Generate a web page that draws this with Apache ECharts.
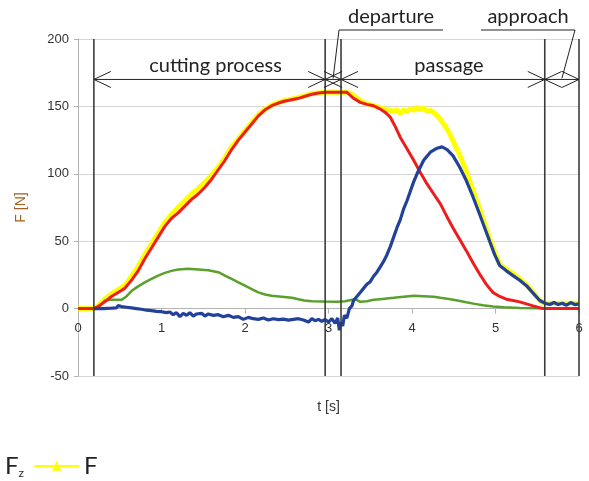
<!DOCTYPE html>
<html><head><meta charset="utf-8">
<script src="https://cdn.jsdelivr.net/npm/echarts@6/dist/echarts.min.js"></script>
<style>html,body{margin:0;padding:0;background:#fff}#c{width:589px;height:481px}</style>
</head><body><div id="c"></div>
<script>
// ---- data ----
const xTicks = [0,1,2,3,4,5,6];
const yTicks = [-50,0,50,100,150,200];

const fT = [0,0.19,0.24,0.32,0.40,0.48,0.56,0.64,0.72,0.80,0.88,0.96,1.04,1.12,1.20,1.28,1.36,1.44,1.52,1.60,1.68,1.76,1.84,1.92,2.00,2.08,2.16,2.24,2.32,2.40,2.48,2.56,2.63,2.72,2.80,2.88,2.96,3.10,3.22,3.28,3.34,3.40,3.46,3.54,3.62,3.70,3.78,3.82,3.86,3.90,3.94,3.98,4.02,4.06,4.10,4.14,4.18,4.22,4.26,4.32,4.38,4.44,4.49,4.57,4.65,4.73,4.81,4.87,4.93,4.99,5.05,5.13,5.21,5.29,5.37,5.45,5.53,5.59,5.70,6.00];
const fV = [0,0,2,7,11,14,17,24,31,40,48,56,64,70,75,80,85,89,94,99,105,112,120,126,132,138,144,148,151,153,154.5,155.5,156.5,158,159.5,160,160.5,160.5,160.5,159,156,153.5,152,150.5,149,147.5,146.5,147.5,145,147.5,146,148.5,147,149.5,147.5,149,146.5,147,145.6,142,137,131,124.6,114,102,88,74,63,52,42,33,29,26,22,18,12,6,4,4,4];

const fyT = [0,0.19,0.24,0.32,0.40,0.48,0.56,0.64,0.72,0.80,0.88,0.96,1.04,1.12,1.20,1.28,1.36,1.44,1.52,1.60,1.68,1.76,1.84,1.92,2.00,2.08,2.16,2.24,2.32,2.40,2.48,2.56,2.64,2.72,2.80,2.88,2.96,3.22,3.30,3.38,3.46,3.54,3.62,3.68,3.74,3.80,3.86,3.94,4.02,4.10,4.18,4.26,4.34,4.42,4.49,4.57,4.65,4.73,4.81,4.89,4.97,5.05,5.13,5.21,5.29,5.37,5.45,5.57,6.00];
const fyV = [0,0,1.5,5,9,12,15,21,28,37,45,53,61,67,71,76,81,85,90,96,103,110,118,125,131,137,143,147.5,150.5,152.5,154,155,156,157.5,159,160,160.5,160.5,156,153,151.5,150.5,148,145.5,142,135,127,118.5,110,101,92.5,85,77.7,68,60,51.5,43,34,25.7,18,12,9,7,6,5,3.5,2,0,0];

const fxT = [0,0.19,0.26,0.32,0.40,0.52,0.58,0.64,0.72,0.80,0.88,0.96,1.04,1.12,1.20,1.32,1.44,1.56,1.68,1.76,1.84,1.92,2.00,2.08,2.16,2.24,2.32,2.44,2.56,2.64,2.71,2.80,2.95,3.10,3.20,3.28,3.32,3.38,3.46,3.54,3.62,3.70,3.78,3.90,4.02,4.14,4.26,4.34,4.46,4.56,4.65,4.75,4.85,4.97,5.10,5.29,5.50,5.60,6.00];
const fxV = [0,0,2,6,6.5,6.5,9,13,16.5,19.5,22,24.5,26.5,28,29,29.5,29,28.5,27,24.5,22,19.5,17,14.5,12,10.5,9.6,8.8,8,7,6,5.5,5.2,5,5.5,6.5,7,5,5.5,6.5,7,7.5,8,8.8,9.6,9.2,8.8,8,7,5.8,4.7,3.5,2.5,1.5,1,0.5,0.2,0,0];

const fzT = [0.19,0.30,0.40,0.46,0.48,0.52,0.58,0.64,0.70,0.76,0.82,0.88,0.94,1.00,1.06,1.10,1.14,1.18,1.22,1.26,1.30,1.34,1.38,1.42,1.48,1.52,1.56,1.62,1.68,1.74,1.80,1.86,1.92,1.98,2.04,2.10,2.16,2.22,2.28,2.34,2.40,2.46,2.52,2.58,2.64,2.70,2.76,2.80,2.84,2.88,2.92,2.96,3.00,3.04,3.08,3.11,3.13,3.15,3.17,3.19,3.22,3.25,3.28,3.30,3.34,3.38,3.42,3.46,3.50,3.54,3.58,3.62,3.66,3.70,3.74,3.78,3.82,3.86,3.90,3.94,3.98,4.02,4.06,4.10,4.14,4.18,4.22,4.26,4.30,4.36,4.42,4.49,4.57,4.65,4.73,4.81,4.87,4.93,4.99,5.05,5.13,5.21,5.29,5.37,5.45,5.53,5.59,5.65,5.70,5.75,5.80,5.85,5.90,5.95,6.00];
const fzV = [0,0,0.3,0.5,2.2,1.5,1,0.5,0,-0.5,-1.2,-1.5,-2,-2.3,-3,-2.5,-4.5,-3,-6,-3.5,-5,-3,-5.5,-4,-3.5,-5.5,-4,-5,-4.5,-6,-5,-6.5,-6,-8,-6.5,-7.5,-8,-7,-8.5,-7.5,-8.2,-7.8,-8.5,-8,-7.5,-8.5,-10,-7.5,-9,-8,-9.5,-8,-10,-7.5,-11,-7,-16,-10,-13,-5,-7,0,2,6,9,12,15,18,20,24,27,31,35,40,46,53,60,66,74,80,87,94,100,105,110,113,116,117.5,119,120,118,113.5,105,95,83,70,60,50,40,32,28,24.5,21,17,11.5,6,4,3,4.5,3,4,2.5,4.5,3,3.5];

const phaseLines = [0.19, 2.96, 3.15, 5.59, 6.0];
const spanStart = [0.19, 2.96, 3.15, 5.59];
const spanEnd   = [2.96, 3.15, 5.59, 6.0];
const spanNames = ['cutting process', 'departure', 'passage', 'approach'];
const arrowLevel = 170;

// ---- styles / layout (not data) ----
const labelFont = 'Lato';
const callout = {
  'departure': {cx: 391, half: 52, from: 'left'},
  'approach':  {cx: 528, half: 47, from: 'right'}
};

const zip = (t, v) => t.map((x, i) => [x, v[i]]);
const spanData = spanStart.map((s, i) => [s, spanEnd[i], arrowLevel, i]);

const chart = echarts.init(document.getElementById('c'), null, {renderer: 'canvas'});

function arrowItem(params, api) {
  const idx = api.value(3);
  const name = spanNames[idx];
  const y = api.value(2);
  const p1 = api.coord([api.value(0), y]);
  const p2 = api.coord([api.value(1), y]);
  const L = 17, W = 8;
  const ls = {stroke: '#222', lineWidth: 1, fill: null};
  const children = [
    {type: 'line', shape: {x1: p1[0], y1: p1[1], x2: p2[0], y2: p2[1]}, style: ls},
    {type: 'polyline', shape: {points: [[p1[0]+L, p1[1]-W], p1, [p1[0]+L, p1[1]+W]]}, style: ls},
    {type: 'polyline', shape: {points: [[p2[0]-L, p2[1]-W], p2, [p2[0]-L, p2[1]+W]]}, style: ls}
  ];
  const mx = (p1[0] + p2[0]) / 2;
  const co = callout[name];
  if (!co) {
    children.push({type: 'text', style: {text: name, x: mx + 6, y: p1[1] - 14, align: 'center', verticalAlign: 'middle',
      font: '20px ' + labelFont, fill: '#222'}});
  } else {
    const uy = 30;
    const x1 = co.cx - co.half, x2 = co.cx + co.half;
    const ax = co.from === 'left' ? x1 : x2;
    children.push({type: 'text', style: {text: name, x: co.cx, y: 17, align: 'center', verticalAlign: 'middle',
      font: '20px ' + labelFont, fill: '#222'}});
    children.push({type: 'line', shape: {x1: x1, y1: uy, x2: x2, y2: uy}, style: ls});
    children.push({type: 'line', shape: {x1: ax, y1: uy, x2: mx, y2: p1[1] - 1}, style: ls});
  }
  return {type: 'group', children: children};
}

function phaseItem(params, api) {
  const x = api.value(0);
  const a = api.coord([x, yTicks[yTicks.length - 1]]);
  const b = api.coord([x, yTicks[0]]);
  return {type: 'line', shape: {x1: a[0], y1: a[1], x2: b[0], y2: b[1]}, style: {stroke: '#3c3c3c', lineWidth: 1.6}};
}

const option = {
  animation: false,
  backgroundColor: '#fff',
  grid: {left: 78, right: 10, top: 39, bottom: 105, containLabel: false, outerBoundsMode: 'none'},
  legend: {
    left: -51, top: 449, orient: 'horizontal', itemWidth: 45, itemHeight: 12, itemGap: 9,
    data: ['Fz', 'F'],
    formatter: n => n === 'Fz' ? '{m|F}{s|z}' : '{m|F}',
    textStyle: {color: '#222', fontFamily: labelFont, rich: {
      m: {fontSize: 24, fontFamily: labelFont, color: '#222', lineHeight: 26},
      s: {fontSize: 12, fontFamily: labelFont, color: '#222', verticalAlign: 'bottom', lineHeight: 16}
    }}
  },
  xAxis: {
    type: 'value', min: xTicks[0], max: xTicks[xTicks.length - 1], interval: 1,
    name: 't [s]', nameLocation: 'middle', nameGap: 92, offset: 0,
    nameTextStyle: {color: '#333', fontSize: 14, fontFamily: 'Liberation Sans'},
    axisLine: {show: true, onZero: false, lineStyle: {color: '#b3b3b3', width: 1}},
    axisTick: {show: true, length: 5, lineStyle: {color: '#b3b3b3'}},
    axisLabel: {color: '#333', fontSize: 13, fontFamily: 'Liberation Sans', margin: 13},
    splitLine: {show: false}
  },
  yAxis: {
    type: 'value', min: yTicks[0], max: yTicks[yTicks.length - 1], interval: 50,
    name: 'F [N]', nameLocation: 'middle', nameGap: 50,
    nameTextStyle: {color: '#a3601f', fontSize: 14, fontFamily: 'Liberation Sans'},
    axisLine: {show: true, onZero: false, lineStyle: {color: '#b3b3b3', width: 1}},
    axisTick: {show: true, length: 4, lineStyle: {color: '#b3b3b3'}},
    axisLabel: {color: '#333', fontSize: 13, fontFamily: 'Liberation Sans', margin: 9},
    splitLine: {show: true, lineStyle: {color: '#d4d4d4', width: 1}}
  },
  series: [
    {name: 'F', type: 'line', data: zip(fT, fV), symbol: 'triangle', symbolSize: 11, showSymbol: false,
      lineStyle: {color: '#ffff00', width: 5}, itemStyle: {color: '#ffff00'}, z: 2},
    {name: 'Fx', type: 'line', data: zip(fxT, fxV), showSymbol: false, symbol: 'none',
      lineStyle: {color: '#5aa02c', width: 2.5}, itemStyle: {color: '#5aa02c'}, z: 3},
    {name: 'Fy', type: 'line', data: zip(fyT, fyV), showSymbol: false, symbol: 'none',
      lineStyle: {color: '#ee1c1c', width: 3}, itemStyle: {color: '#ee1c1c'}, z: 4},
    {name: 'Fz', type: 'line', data: zip(fzT, fzV), showSymbol: false, symbol: 'none',
      lineStyle: {color: '#22419b', width: 3.2}, itemStyle: {color: '#22419b'}, z: 5},
    {name: 'phases', type: 'custom', renderItem: phaseItem, data: phaseLines.map(x => [x]), z: 8, clip: false, silent: true},
    {name: 'spans', type: 'custom', renderItem: arrowItem, data: spanData, z: 9, clip: false, silent: true}
  ]
};
chart.setOption(option);
// move the x axis onto y = 0 using the library's own y scale
const yZero = chart.convertToPixel({yAxisIndex: 0}, 0);
const yBottom = chart.convertToPixel({yAxisIndex: 0}, yTicks[0]);
chart.setOption({xAxis: {offset: yZero - yBottom}});
</script></body></html>
